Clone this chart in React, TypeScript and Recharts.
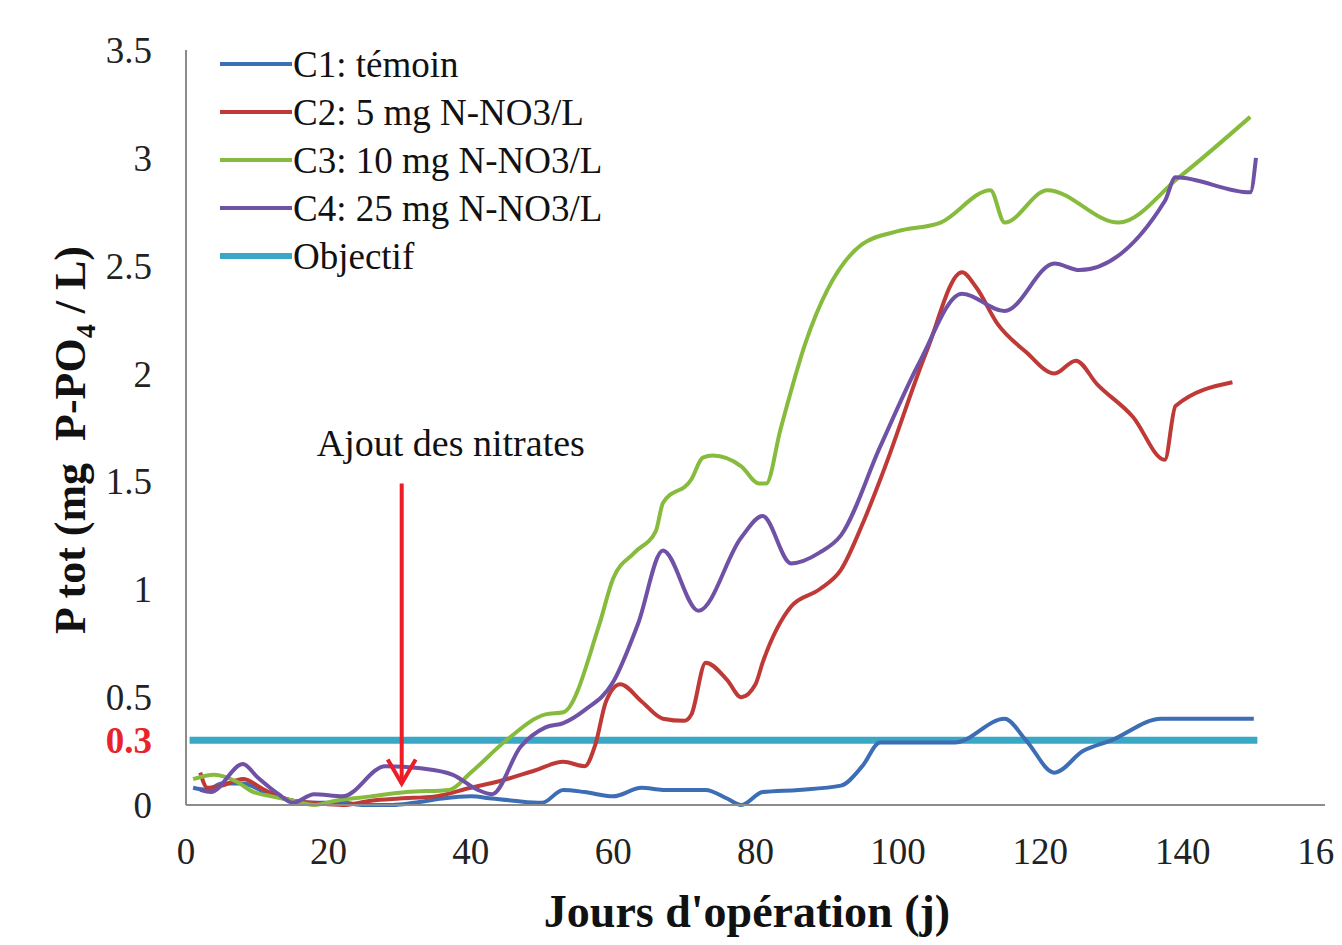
import React from 'react';
import {
    LineChart,
    Line,
    XAxis,
    YAxis,
    Label,
    ReferenceLine,
    ReferenceDot,
} from 'recharts';

const c1Days = [1, 3, 5, 8, 11, 15, 18, 22, 25, 29, 32, 36, 40, 43, 46, 50, 53, 56, 60, 64, 67, 70, 73, 76, 78, 81, 86, 92, 95, 97.5, 106, 108, 115, 118, 122, 126, 130, 137, 139, 150];
const c1Vals = [0.08, 0.07, 0.1, 0.1, 0.06, 0.02, 0.01, 0.01, 0.0, 0.0, 0.01, 0.03, 0.04, 0.03, 0.02, 0.01, 0.07, 0.06, 0.04, 0.08, 0.07, 0.07, 0.07, 0.03, 0.0, 0.06, 0.07, 0.09, 0.18, 0.29, 0.29, 0.29, 0.4, 0.3, 0.15, 0.25, 0.3, 0.4, 0.4, 0.4];

const c2Days = [2, 3, 5, 8, 11, 15, 18, 22, 26, 30, 35, 40, 44, 49, 53, 56, 57.5, 59, 61, 64, 67, 70, 71, 73, 76, 78, 80, 81, 85, 89, 92, 95, 98, 104, 109, 111, 114, 118, 122, 125, 128, 133, 137.5, 139, 147];
const c2Vals = [0.15, 0.08, 0.09, 0.12, 0.07, 0.02, 0.01, 0.0, 0.02, 0.03, 0.04, 0.08, 0.11, 0.16, 0.2, 0.18, 0.28, 0.48, 0.56, 0.48, 0.4, 0.39, 0.42, 0.66, 0.58, 0.5, 0.56, 0.66, 0.92, 1.0, 1.09, 1.3, 1.55, 2.1, 2.47, 2.4, 2.23, 2.1, 2.0, 2.06, 1.95, 1.8, 1.6, 1.85, 1.96];

const c3Days = [1, 4, 7, 9.5, 12, 15, 18, 21, 26, 31, 37, 40, 45, 50.5, 53, 58, 60, 63, 66, 67, 71, 72.6, 74, 78, 80.5, 81.5, 83.5, 87, 95, 100, 106, 113, 115, 121, 131, 139.5, 149.5];
const c3Vals = [0.12, 0.14, 0.11, 0.06, 0.04, 0.02, 0.0, 0.02, 0.04, 0.06, 0.07, 0.15, 0.3, 0.42, 0.43, 0.83, 1.05, 1.17, 1.27, 1.4, 1.51, 1.61, 1.62, 1.57, 1.49, 1.49, 1.74, 2.14, 2.6, 2.66, 2.7, 2.85, 2.7, 2.85, 2.7, 2.91, 3.19];

const c4Days = [2, 3.5, 8, 10, 13, 15, 18, 22, 28, 33, 37.5, 41, 43, 47, 50.5, 53, 56, 60, 63.5, 67, 72, 78, 81, 85, 89, 92, 97.5, 103, 109, 115, 122, 125.5, 137.5, 139, 149.5, 150.3];
const c4Vals = [0.07, 0.06, 0.19, 0.13, 0.05, 0.01, 0.05, 0.04, 0.18, 0.17, 0.14, 0.07, 0.05, 0.27, 0.36, 0.38, 0.44, 0.57, 0.84, 1.18, 0.9, 1.24, 1.34, 1.12, 1.17, 1.25, 1.66, 2.05, 2.37, 2.29, 2.51, 2.48, 2.8, 2.91, 2.84, 3.0];

const objDays = [0.5, 150.5];
const objVals = [0.3, 0.3];

const xTicks = [0, 20, 40, 60, 80, 100, 120, 140, 160];
const yTicks = [0, 0.3, 0.5, 1, 1.5, 2, 2.5, 3, 3.5];

const seriesNames = ['C1: témoin', 'C2: 5 mg N-NO3/L', 'C3: 10 mg N-NO3/L', 'C4: 25 mg N-NO3/L', 'Objectif'];
const seriesColors = ['#3d6db5', '#bf3a37', '#86bb3d', '#6f51a5', '#3aa7c4'];

const arrowDay = 30.3;
const arrowTop = 1.49;
const arrowTip = 0.1;

const toRows = (days: number[], vals: number[]) => days.map((d, i) => ({ day: d, v: vals[i] }));

const c1 = toRows(c1Days, c1Vals);
const c2 = toRows(c2Days, c2Vals);
const c3 = toRows(c3Days, c3Vals);
const c4 = toRows(c4Days, c4Vals);
const obj = toRows(objDays, objVals);

const FONT = '"Liberation Serif", "Times New Roman", serif';
const TICK_SIZE = 37;

function YTick(props: any) {
    const { x, y, payload } = props;
    const isTarget = payload.value === 0.3;
    return (
        <text
            x={x}
            y={y}
            dy="0.35em"
            textAnchor="end"
            fontFamily={FONT}
            fontSize={TICK_SIZE}
            fontWeight={isTarget ? 'bold' : 'normal'}
            fill={isTarget ? '#e8232a' : '#222'}
        >
            {payload.value}
        </text>
    );
}

// legend sits inside the plot, top-left, like the original
function LegendBox() {
    return (
        <div style={{ position: 'absolute', left: 212, top: 32, fontFamily: FONT, fontSize: 37, color: '#111' }}>
            {seriesNames.map((name, i) => (
                <div key={name} style={{ display: 'flex', alignItems: 'center', height: 48, whiteSpace: 'nowrap' }}>
                    <svg width={72} height={10} style={{ marginRight: 1, flexShrink: 0 }}>
                        <line x1={0} y1={5} x2={72} y2={5} stroke={seriesColors[i]} strokeWidth={i === 4 ? 6 : 4} />
                    </svg>
                    <span>{name}</span>
                </div>
            ))}
        </div>
    );
}

function ArrowHead(props: any) {
    const { cx, cy } = props;
    return (
        <path
            d={`M ${cx - 14} ${cy - 24} L ${cx} ${cy} L ${cx + 14} ${cy - 24}`}
            fill="none"
            stroke="#ee1c25"
            strokeWidth={4}
        />
    );
}

export default function App() {
    return (
        <div style={{ position: 'relative', width: 1360, height: 937, background: '#fff' }}>
            <LineChart
                width={1360}
                height={937}
                margin={{ top: 42, right: 43, bottom: 0, left: 0 }}
            >
                <XAxis
                    dataKey="day"
                    type="number"
                    domain={[0, 160]}
                    ticks={xTicks}
                    allowDataOverflow
                    height={140}
                    tickSize={0}
                    tickMargin={33}
                    axisLine={{ stroke: '#8c8c8c', strokeWidth: 2 }}
                    tick={{ fill: '#222', fontSize: TICK_SIZE, fontFamily: FONT }}
                >
                    <Label
                        content={() => (
                            <text
                                x={739}
                                y={903}
                                dy="0.35em"
                                textAnchor="middle"
                                fontFamily={FONT}
                                fontWeight="bold"
                                fontSize={46}
                                fill="#111"
                            >
                                Jours d'opération (j)
                            </text>
                        )}
                    />
                </XAxis>
                <YAxis
                    type="number"
                    domain={[0, 3.5]}
                    ticks={yTicks}
                    width={178}
                    tickSize={0}
                    tickMargin={34}
                    axisLine={{ stroke: '#8c8c8c', strokeWidth: 2 }}
                    tick={<YTick />}
                >
                    <Label
                        content={() => (
                            <text
                                x={62}
                                y={432}
                                dy="0.35em"
                                textAnchor="middle"
                                transform="rotate(-90, 62, 432)"
                                fontFamily={FONT}
                                fontWeight="bold"
                                fontSize={44}
                                fill="#111"
                                style={{ whiteSpace: 'pre' }}
                            >
                                {'P tot (mg  P-PO'}<tspan fontSize={28} dy={10}>4</tspan>
                                <tspan dy={-10}>{' / L)'}</tspan>
                            </text>
                        )}
                    />
                </YAxis>

                <Line data={obj} dataKey="v" name="Objectif" stroke={seriesColors[4]} strokeWidth={7} dot={false} isAnimationActive={false} />
                <Line data={c1} dataKey="v" name="C1" type="monotone" stroke={seriesColors[0]} strokeWidth={4} dot={false} isAnimationActive={false} />
                <Line data={c2} dataKey="v" name="C2" type="monotone" stroke={seriesColors[1]} strokeWidth={4} dot={false} isAnimationActive={false} />
                <Line data={c3} dataKey="v" name="C3" type="monotone" stroke={seriesColors[2]} strokeWidth={4} dot={false} isAnimationActive={false} />
                <Line data={c4} dataKey="v" name="C4" type="monotone" stroke={seriesColors[3]} strokeWidth={4} dot={false} isAnimationActive={false} />

                {/* annotation: arrow for nitrate addition */}
                <ReferenceLine
                    segment={[{ x: arrowDay, y: arrowTop }, { x: arrowDay, y: arrowTip }]}
                    stroke="#ee1c25"
                    strokeWidth={4}
                />
                <ReferenceDot x={arrowDay} y={arrowTip} r={0} shape={<ArrowHead />} />
                <ReferenceDot x={37.2} y={1.68} r={0} fill="none" stroke="none">
                    <Label value="Ajout des nitrates" position="center" fontFamily={FONT} fontSize={38} fill="#111" />
                </ReferenceDot>
            </LineChart>
            <LegendBox />
        </div>
    );
}
